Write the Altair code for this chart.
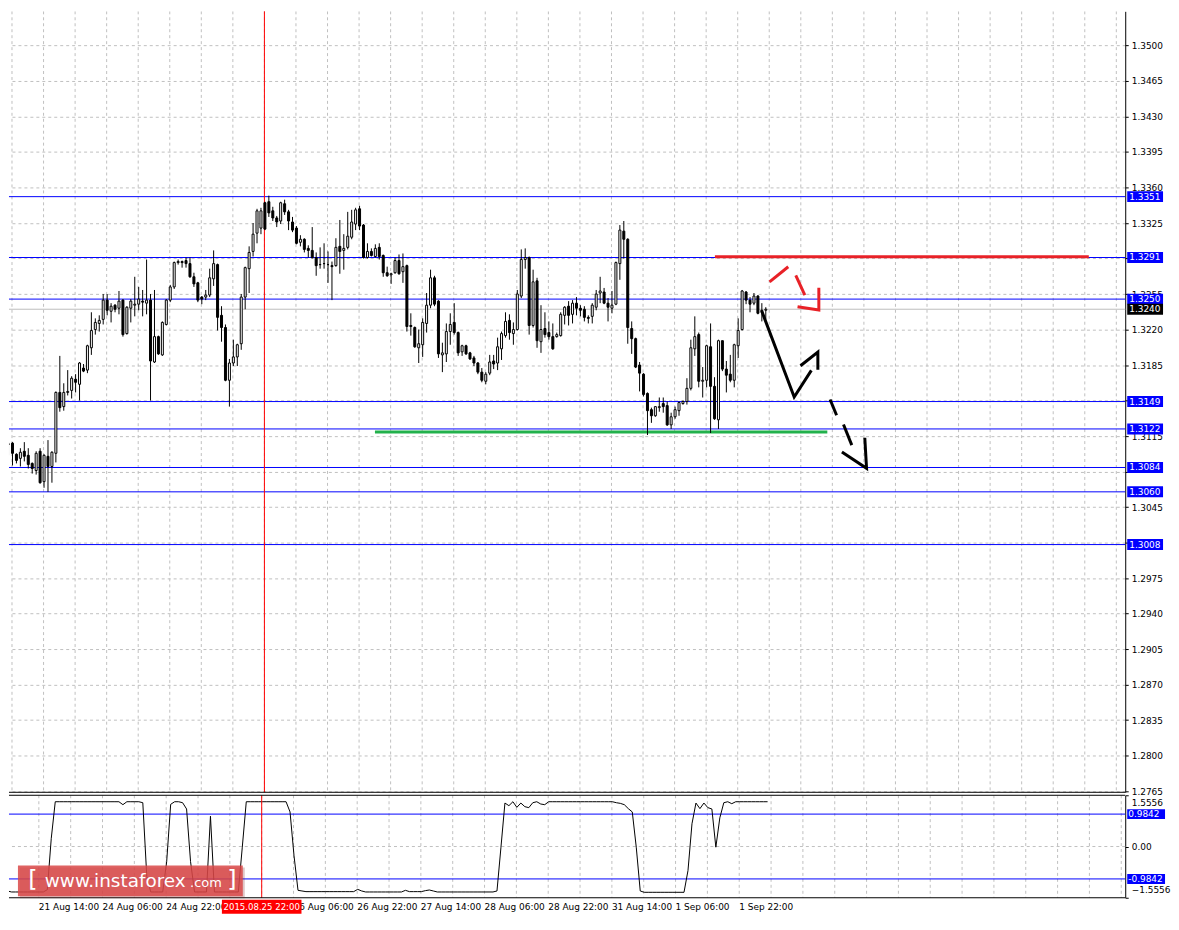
import altair as alt
import pandas as pd

# ---------------- data ----------------
open_ = [
    1.3107, 1.3108, 1.3097, 1.3093, 1.3100, 1.3096, 1.3088, 1.3081, 1.3100, 1.3070,
    1.3095, 1.3085, 1.3098, 1.3158, 1.3144, 1.3158, 1.3160, 1.3171, 1.3166, 1.3182,
    1.3180, 1.3202, 1.3220, 1.3226, 1.3230, 1.3249, 1.3238, 1.3244, 1.3241, 1.3249,
    1.3216, 1.3241, 1.3244, 1.3245, 1.3248, 1.3246, 1.3249, 1.3188, 1.3213, 1.3195,
    1.3225, 1.3249, 1.3262, 1.3286, 1.3287, 1.3288, 1.3285, 1.3272, 1.3266, 1.3252,
    1.3252, 1.3254, 1.3270, 1.3284, 1.3234, 1.3222, 1.3170, 1.3187, 1.3193, 1.3206,
    1.3252, 1.3280, 1.3297, 1.3315, 1.3320, 1.3345, 1.3346, 1.3337, 1.3330, 1.3327,
    1.3344, 1.3336, 1.3326, 1.3320, 1.3306, 1.3309, 1.3300, 1.3298, 1.3291, 1.3284,
    1.3285, 1.3284, 1.3283, 1.3283, 1.3302, 1.3298, 1.3301, 1.3311, 1.3324, 1.3339,
    1.3323, 1.3291, 1.3297, 1.3292, 1.3301, 1.3293, 1.3276, 1.3274, 1.3276, 1.3288,
    1.3277, 1.3283, 1.3224, 1.3222, 1.3202, 1.3205, 1.3226, 1.3244, 1.3271, 1.3248,
    1.3195, 1.3196, 1.3218, 1.3227, 1.3217, 1.3198, 1.3204, 1.3197, 1.3192, 1.3187,
    1.3178, 1.3169, 1.3177, 1.3189, 1.3187, 1.3201, 1.3214, 1.3229, 1.3216, 1.3220,
    1.3253, 1.3289, 1.3291, 1.3224, 1.3268, 1.3208, 1.3221, 1.3217, 1.3213, 1.3213,
    1.3214, 1.3234, 1.3243, 1.3235, 1.3246, 1.3241, 1.3240, 1.3232, 1.3233, 1.3242,
    1.3256, 1.3257, 1.3246, 1.3241, 1.3245, 1.3285, 1.3317, 1.3309, 1.3221, 1.3211,
    1.3185, 1.3176, 1.3157, 1.3141, 1.3135, 1.3143, 1.3147, 1.3145, 1.3126, 1.3134,
    1.3140, 1.3147, 1.3149, 1.3162, 1.3201, 1.3215, 1.3169, 1.3170, 1.3203, 1.3164,
    1.3131, 1.3209, 1.3181, 1.3176, 1.3170, 1.3204, 1.3220, 1.3257, 1.3249, 1.3246,
    1.3253, 1.3239, 1.3239,
]
high = [
    1.3109, 1.3109, 1.3098, 1.3103, 1.3109, 1.3103, 1.3089, 1.3100, 1.3103, 1.3097,
    1.3111, 1.3100, 1.3159, 1.3194, 1.3167, 1.3180, 1.3174, 1.3176, 1.3188, 1.3186,
    1.3205, 1.3237, 1.3231, 1.3234, 1.3255, 1.3255, 1.3246, 1.3245, 1.3258, 1.3250,
    1.3243, 1.3250, 1.3272, 1.3262, 1.3259, 1.3289, 1.3255, 1.3259, 1.3214, 1.3228,
    1.3250, 1.3264, 1.3287, 1.3289, 1.3288, 1.3291, 1.3291, 1.3276, 1.3267, 1.3253,
    1.3259, 1.3280, 1.3298, 1.3285, 1.3243, 1.3225, 1.3191, 1.3210, 1.3206, 1.3255,
    1.3282, 1.3302, 1.3325, 1.3339, 1.3340, 1.3346, 1.3352, 1.3341, 1.3332, 1.3346,
    1.3348, 1.3338, 1.3331, 1.3322, 1.3313, 1.3310, 1.3303, 1.3321, 1.3296, 1.3301,
    1.3305, 1.3297, 1.3287, 1.3310, 1.3328, 1.3314, 1.3336, 1.3338, 1.3340, 1.3342,
    1.3324, 1.3305, 1.3300, 1.3304, 1.3305, 1.3294, 1.3282, 1.3276, 1.3291, 1.3294,
    1.3295, 1.3284, 1.3236, 1.3223, 1.3220, 1.3231, 1.3256, 1.3279, 1.3273, 1.3249,
    1.3207, 1.3226, 1.3236, 1.3246, 1.3218, 1.3205, 1.3205, 1.3198, 1.3194, 1.3188,
    1.3182, 1.3178, 1.3195, 1.3195, 1.3212, 1.3218, 1.3237, 1.3235, 1.3227, 1.3259,
    1.3299, 1.3300, 1.3292, 1.3279, 1.3271, 1.3244, 1.3237, 1.3228, 1.3226, 1.3217,
    1.3237, 1.3243, 1.3248, 1.3249, 1.3252, 1.3244, 1.3243, 1.3234, 1.3246, 1.3259,
    1.3272, 1.3261, 1.3251, 1.3258, 1.3287, 1.3323, 1.3327, 1.3310, 1.3228, 1.3212,
    1.3188, 1.3177, 1.3158, 1.3143, 1.3144, 1.3153, 1.3153, 1.3149, 1.3138, 1.3144,
    1.3149, 1.3150, 1.3172, 1.3210, 1.3233, 1.3217, 1.3183, 1.3205, 1.3226, 1.3173,
    1.3210, 1.3209, 1.3189, 1.3195, 1.3206, 1.3231, 1.3259, 1.3258, 1.3252, 1.3256,
    1.3254, 1.3246, 1.3242,
]
low = [
    1.3096, 1.3086, 1.3088, 1.3085, 1.3090, 1.3083, 1.3078, 1.3077, 1.3068, 1.3064,
    1.3060, 1.3069, 1.3089, 1.3139, 1.3140, 1.3155, 1.3152, 1.3158, 1.3150, 1.3178,
    1.3177, 1.3195, 1.3215, 1.3218, 1.3225, 1.3234, 1.3227, 1.3237, 1.3235, 1.3213,
    1.3215, 1.3227, 1.3233, 1.3239, 1.3233, 1.3235, 1.3150, 1.3187, 1.3195, 1.3194,
    1.3224, 1.3247, 1.3260, 1.3284, 1.3281, 1.3281, 1.3271, 1.3262, 1.3247, 1.3245,
    1.3249, 1.3252, 1.3263, 1.3219, 1.3208, 1.3169, 1.3144, 1.3184, 1.3184, 1.3200,
    1.3240, 1.3256, 1.3292, 1.3305, 1.3314, 1.3318, 1.3331, 1.3327, 1.3321, 1.3324,
    1.3333, 1.3318, 1.3316, 1.3304, 1.3302, 1.3296, 1.3291, 1.3290, 1.3273, 1.3280,
    1.3280, 1.3266, 1.3249, 1.3282, 1.3275, 1.3279, 1.3299, 1.3309, 1.3318, 1.3318,
    1.3290, 1.3290, 1.3292, 1.3291, 1.3289, 1.3272, 1.3272, 1.3265, 1.3275, 1.3274,
    1.3266, 1.3218, 1.3214, 1.3202, 1.3187, 1.3193, 1.3217, 1.3241, 1.3243, 1.3192,
    1.3178, 1.3188, 1.3205, 1.3215, 1.3194, 1.3194, 1.3195, 1.3190, 1.3184, 1.3176,
    1.3168, 1.3166, 1.3175, 1.3181, 1.3180, 1.3190, 1.3212, 1.3210, 1.3205, 1.3219,
    1.3251, 1.3280, 1.3215, 1.3222, 1.3202, 1.3197, 1.3212, 1.3210, 1.3200, 1.3212,
    1.3213, 1.3225, 1.3224, 1.3226, 1.3234, 1.3233, 1.3228, 1.3226, 1.3226, 1.3239,
    1.3246, 1.3245, 1.3228, 1.3236, 1.3244, 1.3269, 1.3290, 1.3206, 1.3196, 1.3182,
    1.3159, 1.3154, 1.3116, 1.3128, 1.3134, 1.3139, 1.3138, 1.3125, 1.3122, 1.3132,
    1.3135, 1.3146, 1.3146, 1.3160, 1.3194, 1.3163, 1.3153, 1.3163, 1.3118, 1.3131,
    1.3122, 1.3179, 1.3158, 1.3168, 1.3163, 1.3192, 1.3219, 1.3245, 1.3237, 1.3244,
    1.3235, 1.3228, 1.3230,
]
close = [
    1.3107, 1.3098, 1.3091, 1.3099, 1.3095, 1.3087, 1.3083, 1.3098, 1.3069, 1.3096,
    1.3085, 1.3099, 1.3158, 1.3143, 1.3158, 1.3159, 1.3172, 1.3168, 1.3187, 1.3179,
    1.3204, 1.3219, 1.3227, 1.3229, 1.3249, 1.3239, 1.3243, 1.3240, 1.3248, 1.3215,
    1.3242, 1.3248, 1.3245, 1.3250, 1.3247, 1.3249, 1.3189, 1.3213, 1.3196, 1.3227,
    1.3249, 1.3262, 1.3286, 1.3287, 1.3286, 1.3285, 1.3272, 1.3265, 1.3249, 1.3250,
    1.3254, 1.3271, 1.3285, 1.3232, 1.3222, 1.3170, 1.3187, 1.3193, 1.3205, 1.3252,
    1.3281, 1.3296, 1.3314, 1.3337, 1.3337, 1.3319, 1.3335, 1.3330, 1.3326, 1.3345,
    1.3336, 1.3327, 1.3318, 1.3305, 1.3309, 1.3299, 1.3298, 1.3291, 1.3283, 1.3284,
    1.3285, 1.3284, 1.3282, 1.3301, 1.3297, 1.3300, 1.3312, 1.3326, 1.3338, 1.3322,
    1.3291, 1.3297, 1.3293, 1.3300, 1.3292, 1.3276, 1.3273, 1.3275, 1.3288, 1.3275,
    1.3282, 1.3223, 1.3223, 1.3203, 1.3206, 1.3227, 1.3244, 1.3271, 1.3245, 1.3196,
    1.3197, 1.3218, 1.3225, 1.3217, 1.3197, 1.3204, 1.3196, 1.3191, 1.3187, 1.3178,
    1.3170, 1.3176, 1.3188, 1.3186, 1.3203, 1.3216, 1.3228, 1.3217, 1.3220, 1.3255,
    1.3289, 1.3291, 1.3224, 1.3267, 1.3209, 1.3220, 1.3215, 1.3213, 1.3201, 1.3215,
    1.3235, 1.3242, 1.3234, 1.3246, 1.3241, 1.3239, 1.3232, 1.3231, 1.3244, 1.3255,
    1.3258, 1.3246, 1.3242, 1.3244, 1.3286, 1.3318, 1.3309, 1.3222, 1.3211, 1.3183,
    1.3177, 1.3156, 1.3140, 1.3135, 1.3144, 1.3144, 1.3144, 1.3126, 1.3134, 1.3141,
    1.3148, 1.3149, 1.3162, 1.3202, 1.3213, 1.3169, 1.3170, 1.3204, 1.3164, 1.3132,
    1.3209, 1.3181, 1.3175, 1.3170, 1.3205, 1.3219, 1.3258, 1.3249, 1.3245, 1.3253,
    1.3236, 1.3237, 1.3240,
]
oscillator = [
    -1.31, -1.35, -1.38, -1.38, -1.38, -1.38, -1.38, -1.38, -1.38, -1.38,
    -1.38, -1.31, 0.25, 1.36, 1.36, 1.36, 1.36, 1.36, 1.36, 1.36,
    1.36, 1.36, 1.36, 1.36, 1.36, 1.36, 1.36, 1.36, 1.36, 1.36,
    1.27, 1.36, 1.36, 1.36, 1.36, 1.33, -0.91, -1.38, -1.38, -1.38,
    -1.38, -0.46, 1.28, 1.36, 1.36, 1.33, 1.14, -0.46, -1.38, -1.38,
    -1.38, -1.38, 0.92, -1.38, -1.38, -1.38, -1.38, -1.38, -1.38, -1.38,
    -0.02, 1.36, 1.36, 1.36, 1.36, 1.36, 1.36, 1.36, 1.36, 1.36,
    1.36, 1.36, 1.05, -0.28, -1.33, -1.35, -1.37, -1.37, -1.37, -1.37,
    -1.37, -1.37, -1.37, -1.37, -1.37, -1.37, -1.37, -1.37, -1.37, -1.30,
    -1.35, -1.38, -1.38, -1.38, -1.38, -1.38, -1.38, -1.38, -1.38, -1.38,
    -1.38, -1.33, -1.37, -1.37, -1.37, -1.37, -1.34, -1.32, -1.35, -1.38,
    -1.38, -1.38, -1.38, -1.38, -1.38, -1.38, -1.38, -1.38, -1.38, -1.38,
    -1.38, -1.38, -1.38, -1.38, -1.35, -0.02, 1.32, 1.24, 1.36, 1.19,
    1.32, 1.21, 1.18, 1.33, 1.36, 1.29, 1.27, 1.36, 1.36, 1.36,
    1.36, 1.36, 1.36, 1.36, 1.36, 1.36, 1.36, 1.36, 1.36, 1.36,
    1.36, 1.36, 1.36, 1.36, 1.33, 1.31, 1.27, 1.15, 1.05, -0.02,
    -1.35, -1.39, -1.39, -1.39, -1.39, -1.39, -1.39, -1.39, -1.39, -1.39,
    -1.39, -1.39, -0.73, 0.69, 1.32, 1.15, 1.32, 1.18, 1.14, -0.02,
    0.87, 1.33, 1.36, 1.30, 1.36, 1.36, 1.36, 1.36, 1.36, 1.36,
    1.36, 1.36, 1.36,
]

price_ticks = [1.2765, 1.2800, 1.2835, 1.2870, 1.2905, 1.2940, 1.2975, 1.3010,
               1.3045, 1.3080, 1.3115, 1.3150, 1.3185, 1.3220, 1.3255, 1.3290,
               1.3325, 1.3360, 1.3395, 1.3430, 1.3465, 1.3500]
hidden_price_labels = ["1.3010", "1.3080", "1.3150", "1.3290"]   # covered by level tags
blue_levels = [1.3351, 1.3291, 1.3250, 1.3149, 1.3122, 1.3084, 1.3060, 1.3008]
current_price = [1.3240]
osc_range = [-1.5556, 1.5556]
osc_ticks = [-1.5556, 0.0, 1.5556]
osc_levels = [0.9842, -0.9842]

time_pos = [8.875, 24.875, 40.875, 72.875, 88.875, 104.875, 120.875,
            136.875, 152.875, 168.875, 184.875]
time_labels = ["21 Aug 14:00", "24 Aug 06:00", "24 Aug 22:00",
               "26 Aug 06:00", "26 Aug 22:00", "27 Aug 14:00", "28 Aug 06:00",
               "28 Aug 22:00", "31 Aug 14:00", "1 Sep 06:00", "1 Sep 22:00"]
marker_pos = [64.875]
marker_label = ["2015.08.25 22:00"]

green_k = [92.9, 207.6]
green_p = [1.3119, 1.3119]
redline_k = [179.1, 273.9]
redline_p = [1.32918, 1.32918]

red_arrow_seg = ["a", "a", "b", "b", "c", "c", "c"]
red_arrow_k = [192.95, 197.7, 199.6, 201.9, 200.05, 205.45, 205.45]
red_arrow_p = [1.32669, 1.32819, 1.32735, 1.32539, 1.32424, 1.32392, 1.32611]

black_arrow_seg = ["a", "a", "a", "b", "b", "b"]
black_arrow_k = [191.05, 199.2, 203.55, 200.8, 205.2, 205.2]
black_arrow_p = [1.32375, 1.31535, 1.31797, 1.31843, 1.31977, 1.31803]

dash_arrow_seg = ["a", "a", "b", "b", "c", "c", "c"]
dash_arrow_k = [208.3, 209.95, 211.7, 213.8, 211.3, 217.55, 217.1]
dash_arrow_p = [1.31510, 1.31355, 1.31264, 1.31061, 1.30992, 1.30832, 1.31133]

# ---------------- layout ----------------
W = 1122
H1 = 785
H2 = 103
PX_PER_UNIT = 10196.0
TOP_PRICE = 1.35337
FONT = "DejaVu Sans"
BLUE = "#0000ff"
RED = "#e82127"

df = pd.DataFrame({"k": list(range(len(open_))), "o": open_, "h": high,
                   "l": low, "c": close})
df["h"] = df[["h", "o", "c"]].max(axis=1)
df["l"] = df[["l", "o", "c"]].min(axis=1)
df["dir"] = ["up" if c >= o else "down" for o, c in zip(df["o"], df["c"])]

osc_df = pd.DataFrame({"k": list(range(len(oscillator))), "v": oscillator})

xs = alt.Scale(domain=[1.375, 1.375 + W / 4.0], nice=False, zero=False)
ys = alt.Scale(domain=[TOP_PRICE - H1 / PX_PER_UNIT, TOP_PRICE], nice=False, zero=False)
ys2 = alt.Scale(domain=osc_range, nice=False, zero=False)

axis_common = dict(orient="right", title=None, tickSize=3, tickColor="black",
                   domainColor="black", labelFont=FONT, labelFontSize=9,
                   labelColor="black", labelPadding=3, labelOverlap=False, zindex=0)
hidden_js = "[" + ",".join(f"'{s}'" for s in hidden_price_labels) + "]"
ax_main = alt.Axis(values=price_ticks, grid=True, gridDash=[3, 3],
                   gridColor="#c0c0c0", gridWidth=1, labelFlush=False,
                   labelExpr=f"indexof({hidden_js}, format(datum.value, '.4f')) >= 0 ? '' : format(datum.value, '.4f')",
                   **axis_common)
ax_ind = alt.Axis(values=osc_ticks, grid=False, labelFlush=True, labelFlushOffset=-3,
                  labelExpr="datum.value == 0 ? '0.00' : format(datum.value, '.4f')",
                  **axis_common)


def Xk(f):
    return alt.X(f, type="quantitative", scale=xs, axis=None)


def Ym(f):
    return alt.Y(f, type="quantitative", scale=ys, axis=ax_main)


def Yi(f):
    return alt.Y(f, type="quantitative", scale=ys2, axis=ax_ind)


def box_shape(w, h):
    r = h / float(w)
    return f"M-1,{-r:.4f}H1V{r:.4f}H-1Z"


grid_df = pd.DataFrame({"k": [0.875 + 8 * m for m in range(36)]})
one = pd.DataFrame({"a": [0]})

# ---------------- main panel ----------------
vgrid = alt.Chart(grid_df).mark_rule(color="#c0c0c0", strokeDash=[3, 3], clip=True).encode(x=Xk("k"))

lev_df = pd.DataFrame({"p": blue_levels, "lab": [f"{v:.4f}" for v in blue_levels]})
cur_df = pd.DataFrame({"p": current_price, "lab": [f"{v:.4f}" for v in current_price]})

green = alt.Chart(pd.DataFrame({"k": green_k, "p": green_p})).mark_line(
    color="#22b14c", strokeWidth=3).encode(x=Xk("k"), y=Ym("p"))
blue = alt.Chart(lev_df).mark_rule(color=BLUE, strokeWidth=1).encode(y=Ym("p"))
cur = alt.Chart(cur_df).mark_rule(color="#bdbdbd", strokeWidth=1).encode(y=Ym("p"))
redh = alt.Chart(pd.DataFrame({"k": redline_k, "p": redline_p})).mark_line(
    color=RED, strokeWidth=3).encode(x=Xk("k"), y=Ym("p"))
marker_main = alt.Chart(pd.DataFrame({"k": marker_pos})).mark_rule(color="#ff0000").encode(x=Xk("k"))

wick = alt.Chart(df).mark_rule(color="black", strokeWidth=1, clip=True).encode(
    x=Xk("k"), y=Ym("l"), y2=alt.Y2("h"))
body = alt.Chart(df).mark_bar(size=2, stroke="black", strokeWidth=1, clip=True).encode(
    x=Xk("k"), y=Ym("o"), y2=alt.Y2("c"),
    fill=alt.Fill("dir:N", scale=alt.Scale(domain=["up", "down"], range=["white", "black"]),
                  legend=None))


def arrow(seg, ks, ps, color):
    d = pd.DataFrame({"seg": seg, "k": ks, "p": ps, "i": list(range(len(ks)))})
    return alt.Chart(d).mark_line(color=color, strokeWidth=3).encode(
        x=Xk("k"), y=Ym("p"), detail="seg:N", order="i:Q")


red_arrow = arrow(red_arrow_seg, red_arrow_k, red_arrow_p, RED)
black_arrow = arrow(black_arrow_seg, black_arrow_k, black_arrow_p, "black")
dash_arrow = arrow(dash_arrow_seg, dash_arrow_k, dash_arrow_p, "black")

bottom_border = alt.Chart(one).mark_rule(color="black").encode(
    x=alt.value(0), x2=alt.value(W), y=alt.value(H1))

lev_box = alt.Chart(lev_df).mark_point(shape=box_shape(36, 11), size=36 ** 2, filled=True,
                                       opacity=1, color=BLUE).encode(
    x=alt.value(W + 20), y=Ym("p"))
lev_txt = alt.Chart(lev_df).mark_text(align="left", baseline="middle", color="white",
                                      font=FONT, fontSize=9).encode(
    x=alt.value(W + 4), y=Ym("p"), text="lab:N")
cur_box = alt.Chart(cur_df).mark_point(shape=box_shape(36, 11), size=36 ** 2, filled=True,
                                       opacity=1, color="black").encode(
    x=alt.value(W + 20), y=Ym("p"))
cur_txt = alt.Chart(cur_df).mark_text(align="left", baseline="middle", color="white",
                                      font=FONT, fontSize=9).encode(
    x=alt.value(W + 4), y=Ym("p"), text="lab:N")

main = alt.layer(vgrid, green, blue, cur, redh, marker_main, wick, body,
                 red_arrow, black_arrow, dash_arrow, bottom_border,
                 lev_box, lev_txt, cur_box, cur_txt).properties(width=W, height=H1)

# ---------------- indicator panel ----------------
ilev_df = pd.DataFrame({"v": osc_levels, "lab": [f"{v:.4f}" for v in osc_levels]})
zero_rule = alt.Chart(pd.DataFrame({"v": [0.0]})).mark_rule(
    color="#c0c0c0", strokeDash=[3, 3]).encode(y=Yi("v"))
ilev = alt.Chart(ilev_df).mark_rule(color=BLUE).encode(y=Yi("v"))
osc_line = alt.Chart(osc_df).mark_line(color="black", strokeWidth=1, clip=True).encode(
    x=Xk("k"), y=Yi("v"))
marker_ind = alt.Chart(pd.DataFrame({"k": marker_pos})).mark_rule(color="#ff0000").encode(x=Xk("k"))
top_b = alt.Chart(one).mark_rule(color="black").encode(x=alt.value(0), x2=alt.value(W), y=alt.value(0))
bot_b = alt.Chart(one).mark_rule(color="black").encode(x=alt.value(0), x2=alt.value(W), y=alt.value(H2))

xlab = alt.Chart(pd.DataFrame({"k": time_pos, "t": time_labels})).mark_text(
    align="left", baseline="middle", font=FONT, fontSize=9, color="black").encode(
    x=Xk("k"), y=alt.value(H2 + 9), text="t:N")
mk_df = pd.DataFrame({"k": marker_pos, "t": marker_label})
mk_box = alt.Chart(mk_df).mark_point(shape=box_shape(80, 14), size=80 ** 2, filled=True,
                                     opacity=1, color="#ff0000").encode(
    x=Xk("k"), y=alt.value(H2 + 9))
mk_txt = alt.Chart(mk_df).mark_text(align="center", baseline="middle", font=FONT,
                                    fontSize=8.6, color="white").encode(
    x=Xk("k"), y=alt.value(H2 + 9), text="t:N")

wm_shadow = alt.Chart(one).mark_point(shape=box_shape(226, 31), size=226 ** 2, filled=True,
                                      opacity=0.25, color="#7a2020").encode(
    x=alt.value(124), y=alt.value(88))
wm_box = alt.Chart(one).mark_point(shape=box_shape(226, 31), size=226 ** 2, filled=True,
                                   opacity=0.85, color="#d94848").encode(
    x=alt.value(122), y=alt.value(86))
wm_l = alt.Chart(one).mark_text(text="[", font=FONT, fontSize=24, color="white",
                                align="center", baseline="middle").encode(
    x=alt.value(24), y=alt.value(85))
wm_main = alt.Chart(one).mark_text(text="www.instaforex", font=FONT, fontSize=18.5,
                                   color="white", align="left", baseline="middle").encode(
    x=alt.value(36), y=alt.value(86))
wm_com = alt.Chart(one).mark_text(text=".com", font=FONT, fontSize=13, color="white",
                                  align="left", baseline="middle").encode(
    x=alt.value(182), y=alt.value(88))
wm_r = alt.Chart(one).mark_text(text="]", font=FONT, fontSize=24, color="white",
                                align="center", baseline="middle").encode(
    x=alt.value(224), y=alt.value(85))

ilev_box = alt.Chart(ilev_df).mark_point(shape=box_shape(38, 10), size=38 ** 2, filled=True,
                                         opacity=1, color=BLUE).encode(
    x=alt.value(W + 21), y=Yi("v"))
ilev_txt = alt.Chart(ilev_df).mark_text(align="left", baseline="middle", color="white",
                                        font=FONT, fontSize=9).encode(
    x=alt.value(W + 3), y=Yi("v"), text="lab:N")

ind = alt.layer(vgrid, zero_rule, ilev, osc_line, marker_ind, top_b, bot_b, xlab,
                mk_box, mk_txt, wm_shadow, wm_box, wm_l, wm_main, wm_com, wm_r,
                ilev_box, ilev_txt).properties(width=W, height=H2)

chart = alt.vconcat(main, ind, spacing=3, bounds="flush").properties(
    padding=0, background="white").configure_view(stroke=None)

chart.save("out.html", embed_options={"renderer": "svg", "actions": False})
